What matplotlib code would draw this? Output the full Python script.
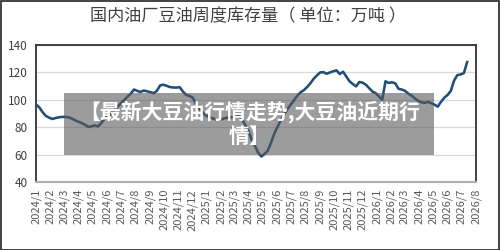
import numpy as np
import pandas as pd
import matplotlib
matplotlib.use("Agg")
import matplotlib.pyplot as plt
from matplotlib.patches import Rectangle

plt.rcParams["font.family"] = ["Noto Sans CJK SC", "DejaVu Sans"]

# weekly soybean oil stocks (10k tonnes)
start = "2024-01-01"
stocks = [
  96.6, 94.5, 91.0, 88.3, 87.0, 86.0, 86.7, 87.2, 87.5, 87.5,
  87.2, 86.3, 85.0, 84.0, 83.0, 81.8, 80.2, 80.6, 81.3, 80.6,
  83.0, 86.2, 88.0, 89.8, 92.5, 95.0, 97.5, 99.8, 102.2, 104.5,
  107.5, 106.5, 105.7, 106.8, 106.2, 105.6, 104.8, 106.5, 110.5, 111.0,
  110.2, 109.3, 109.0, 108.9, 109.2, 106.0, 103.5, 102.8, 101.5, 97.0,
  93.5, 91.0, 88.5, 87.5, 86.5, 85.8, 85.3, 86.0, 86.7, 87.0,
  87.3, 87.7, 88.0, 86.0, 82.0, 77.7, 71.0, 66.5, 61.5, 58.6,
  60.5, 63.0, 69.0, 75.5, 80.5, 85.3, 89.5, 93.2, 96.5, 99.7,
  103.0, 105.5, 107.0, 109.3, 112.0, 115.3, 117.8, 120.0, 120.2, 119.0,
  120.0, 120.8, 121.5, 118.8, 120.5, 117.0, 113.5, 111.5, 109.8, 113.0,
  112.5, 111.0, 108.5, 106.0, 104.8, 102.5, 100.0, 113.5, 112.3, 112.8,
  112.0, 108.0, 107.5, 106.5, 104.5, 103.0, 101.0, 99.2, 98.2, 97.8,
  98.5, 97.5, 96.5, 95.0, 98.5, 101.5, 103.5, 106.5, 114.0, 118.0,
  118.5, 119.5, 127.5,
]
title = "国内油厂豆油周度库存量（ 单位：万吨 ）"
overlay = "【最新大豆油行情走势,大豆油近期行\n情】"
yticks = [40, 60, 80, 100, 120, 140]

dates = pd.date_range(start, periods=len(stocks), freq="7D")
months = pd.date_range("2024-01-01", "2026-08-01", freq="MS")
month_labels = [f"{d.year}/{d.month}" for d in months]

fig = plt.figure(figsize=(5, 2.5), dpi=100)
ax = fig.add_axes([0.072, 0.272, 0.88, 0.548])

ax.plot(dates, stocks, color="#1f4e79", lw=1.85, zorder=3)

ax.set_xlim(months[0], months[-1])
ax.set_ylim(40, 140)
ax.set_yticks(yticks)
ax.set_xticks(months)
ax.set_xticklabels(month_labels, rotation=90)
ax.tick_params(axis="x", length=0, pad=5, labelsize=8, colors="#595959")
ax.tick_params(axis="y", length=0, pad=6, labelsize=8.5, colors="#404040")
ax.grid(axis="y", color="#d9d9d9", lw=0.9)
ax.set_axisbelow(True)
for s in ["left", "top", "right"]:
  ax.spines[s].set_color("#333333")
  ax.spines[s].set_linewidth(1.3)
ax.spines["bottom"].set_color("#b0b0b0")
ax.spines["bottom"].set_linewidth(1.5)

fig.text(0.496, 0.935, title, ha="center", va="center", fontsize=12.3,
         fontweight="medium", color="#404040")

# watermark box over the plot
fig.patches.append(Rectangle((0.128, 0.38), 0.74, 0.248, transform=fig.transFigure,
                             facecolor="#5a5a5a", alpha=0.6, edgecolor="none", zorder=5))
fig.text(0.5, 0.505, overlay, ha="center", va="center", fontsize=15,
         fontweight="bold", color="white", linespacing=1.2, zorder=6)

fig.patches.append(Rectangle((0.001, 0.002), 0.997, 0.996, transform=fig.transFigure,
                             facecolor="none", edgecolor="#222222", lw=1.2, zorder=7))

plt.savefig("out.png")
